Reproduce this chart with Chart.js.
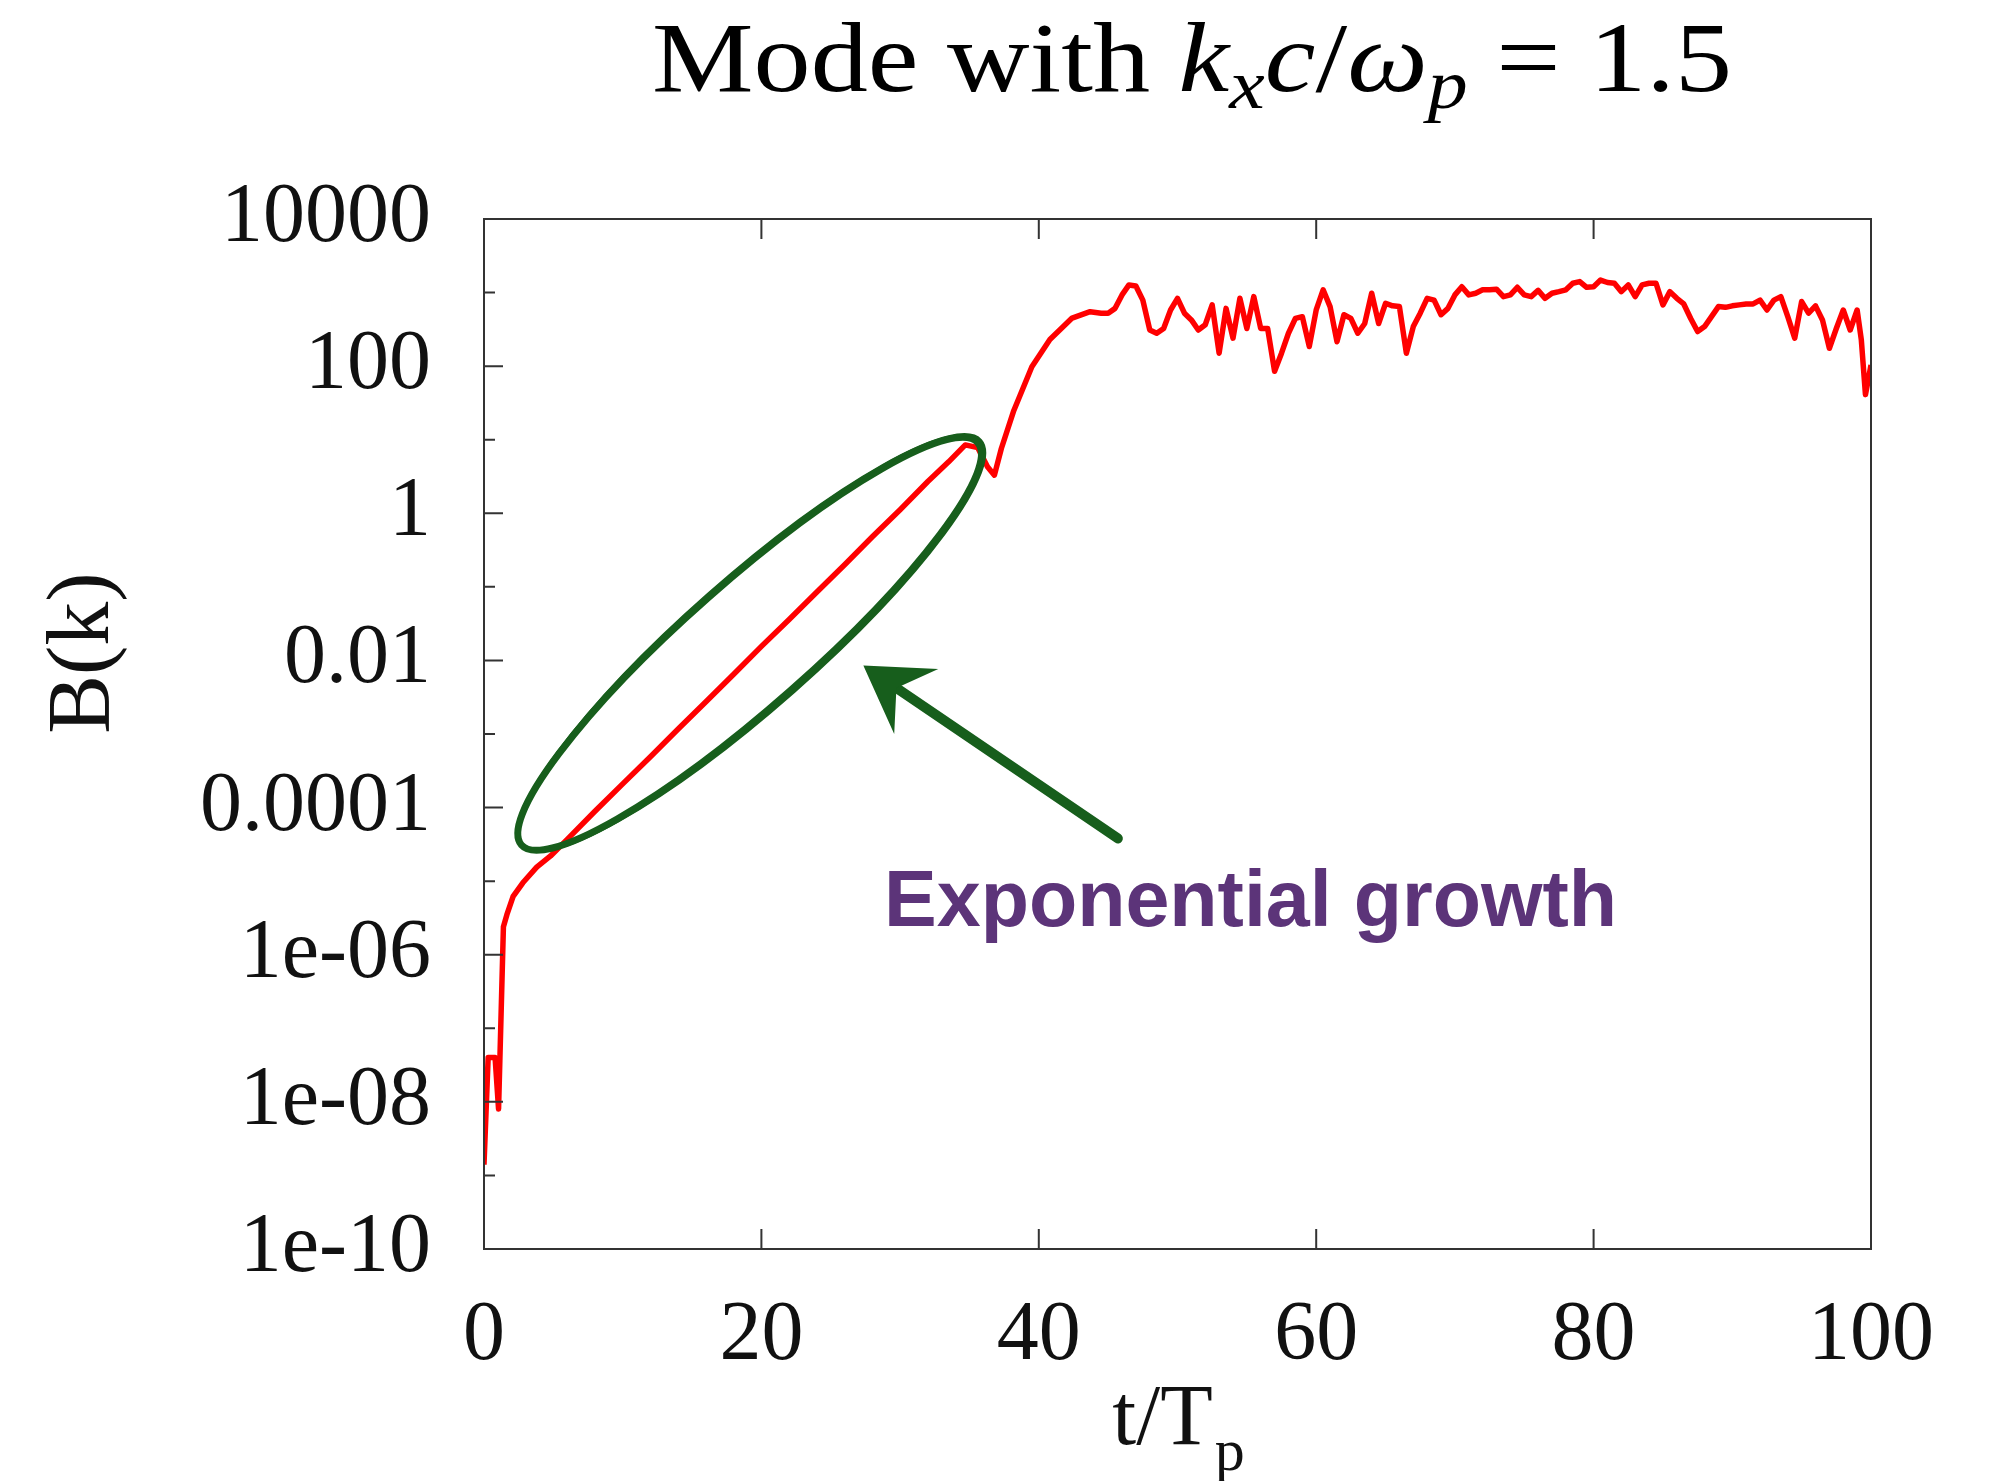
<!DOCTYPE html>
<html>
<head>
<meta charset="utf-8">
<script src="https://cdn.jsdelivr.net/npm/chart.js@4.4.0/dist/chart.umd.min.js"></script>
<style>
html, body { margin: 0; padding: 0; background: #fff; }
#wrap { width: 1998px; height: 1481px; }
</style>
</head>
<body>
<div id="wrap"><canvas id="mode-chart"></canvas></div>
<script>
// t/T_p and B(k)
var tValues = [0, 0.3, 0.8, 1.05, 1.4, 1.65, 2.1, 2.8, 3.8, 4.8,
  6, 8, 10, 12, 14, 16, 18, 20, 22, 24, 26, 28, 30, 32, 33.5, 34.7,
  35.6, 36.3, 36.8, 37.3, 38.2, 39.5, 40.8, 42.4, 43.7,
  44.5, 45, 45.5, 46, 46.5, 47, 47.5, 48, 48.5, 49, 49.5, 50, 50.5, 51, 51.5, 52, 52.5, 53, 53.5, 54, 54.5,
  55, 55.5, 56, 56.5, 57, 57.5, 58, 58.5, 59, 59.5, 60, 60.5, 61, 61.5, 62, 62.5, 63, 63.5, 64, 64.5,
  65, 65.5, 66, 66.5, 67, 67.5, 68, 68.5, 69, 69.5, 70, 70.5, 71, 71.5, 72, 72.5, 73, 73.5, 74, 74.5,
  75, 75.5, 76, 76.5, 77, 77.5, 78, 78.5, 79, 79.5, 80, 80.5, 81, 81.5, 82, 82.5, 83, 83.5, 84, 84.5,
  85, 85.5, 86, 86.5, 87, 87.5, 88, 88.5, 89, 89.5, 90, 90.5, 91, 91.5, 92, 92.5, 93, 93.5, 94, 94.5,
  95, 95.5, 96, 96.5, 97, 97.5, 98, 98.5, 99, 99.3, 99.6, 100];
var bValues = [1.4e-9, 4e-8, 4e-8, 8e-9, 2.4e-6, 3.5e-6, 6.2e-6, 9.5e-6, 1.55e-5, 2.2e-5,
  3.7e-5, 8.9e-5, 2.1e-4, 4.9e-4, 1.17e-3, 2.75e-3, 6.5e-3, 1.55e-2, 3.6e-2, 8.5e-2, 0.2, 0.48, 1.12, 2.7, 5.0, 8.5,
  7.8, 4.3, 3.3, 7.6, 25, 98, 230, 450, 550,
  525, 525, 610, 930, 1270, 1230, 790, 310, 280, 325, 580, 835, 525, 425, 310, 365, 680, 150, 610, 240, 835,
  325, 880, 325, 325, 85, 150, 280, 445, 470, 185, 580, 1090, 645, 215, 500, 445, 280, 380, 980, 380,
  715, 660, 645, 150, 345, 525, 835, 790, 500, 610, 930, 1200, 930, 980, 1090, 1090, 1110, 880, 930, 1180,
  930, 880, 1070, 835, 980, 1030, 1090, 1340, 1410, 1180, 1200, 1480, 1370, 1340, 1030, 1270, 880, 1270, 1340, 1340,
  680, 1030, 835, 700, 445, 295, 345, 470, 645, 630, 660, 680, 700, 700, 790, 580, 790, 880, 470, 240,
  755, 525, 660, 425, 175, 325, 580, 310, 580, 230, 41, 104];

var xTickValues = [0, 20, 40, 60, 80, 100];
var yTickValues = [1e4, 1e2, 1, 1e-2, 1e-4, 1e-6, 1e-8, 1e-10];
var yTickLabels = ["10000", "100", "1", "0.01", "0.0001", "1e-06", "1e-08", "1e-10"];
var yMinorValues = [1e3, 10, 0.1, 1e-3, 1e-5, 1e-7, 1e-9];

// title pieces: text + style (rm / it / sub)
var titleParts = [["Mode with ", "rm"], ["k", "it"], ["x", "sub"], ["c", "it"], ["/", "rm"],
  ["\u03c9", "it"], ["p", "sub"], [" = 1.5", "rm"]];

// annotation anchors in data units
var ellipseEnds = [[2.7, 3.1e-5], [35.6, 9.1]];
var arrowTail = [45.7, 3.8e-5];
var arrowTip = [27.35, 8.5e-3];
var noteText = "Exponential growth";

var serif = "'Liberation Serif', 'Times New Roman', serif";

let frameAndNotes = {
  id: "frameAndNotes",
  afterDraw: function(chart) {
    let ctx = chart.ctx;
    let area = chart.chartArea;
    let xs = chart.scales.x;
    let ys = chart.scales.y;

    // box + inward ticks (gnuplot style)
    ctx.save();
    ctx.strokeStyle = "#333";
    ctx.lineWidth = 2;
    ctx.strokeRect(area.left, area.top, area.right - area.left, area.bottom - area.top);
    ctx.beginPath();
    xTickValues.forEach(function(v) {
      let px = xs.getPixelForValue(v);
      ctx.moveTo(px, area.bottom); ctx.lineTo(px, area.bottom - 20);
      ctx.moveTo(px, area.top); ctx.lineTo(px, area.top + 20);
    });
    yTickValues.forEach(function(v) {
      let py = ys.getPixelForValue(v);
      ctx.moveTo(area.left, py); ctx.lineTo(area.left + 19, py);
    });
    yMinorValues.forEach(function(v) {
      let py = ys.getPixelForValue(v);
      ctx.moveTo(area.left, py); ctx.lineTo(area.left + 11, py);
    });
    ctx.stroke();
    ctx.restore();

    // green ellipse round the exponential part
    let p1 = [xs.getPixelForValue(ellipseEnds[0][0]), ys.getPixelForValue(ellipseEnds[0][1])];
    let p2 = [xs.getPixelForValue(ellipseEnds[1][0]), ys.getPixelForValue(ellipseEnds[1][1])];
    let cx = (p1[0] + p2[0]) / 2, cy = (p1[1] + p2[1]) / 2;
    let semiA = Math.hypot(p2[0] - p1[0], p2[1] - p1[1]) / 2;
    let ang = Math.atan2(p2[1] - p1[1], p2[0] - p1[0]);
    ctx.save();
    ctx.strokeStyle = "#175e1c";
    ctx.lineWidth = 7;
    ctx.beginPath();
    ctx.ellipse(cx, cy, semiA, 62, ang, 0, Math.PI * 2);
    ctx.stroke();
    ctx.lineWidth = 3;
    ctx.beginPath();
    ctx.ellipse(cx + 1.5, cy - 1, semiA + 2, 65, ang, 0, Math.PI * 2);
    ctx.stroke();

    // arrow
    let tx = xs.getPixelForValue(arrowTail[0]), ty = ys.getPixelForValue(arrowTail[1]);
    let hx = xs.getPixelForValue(arrowTip[0]), hy = ys.getPixelForValue(arrowTip[1]);
    let dir = Math.atan2(ty - hy, tx - hx);
    ctx.lineWidth = 10;
    ctx.lineCap = "round";
    ctx.beginPath();
    ctx.moveTo(tx, ty);
    ctx.lineTo(hx + 30 * Math.cos(dir), hy + 30 * Math.sin(dir));
    ctx.stroke();
    ctx.fillStyle = "#175e1c";
    ctx.beginPath();
    ctx.moveTo(hx, hy);
    ctx.lineTo(hx + 75 * Math.cos(dir - 0.55), hy + 75 * Math.sin(dir - 0.55));
    ctx.lineTo(hx + 40 * Math.cos(dir), hy + 40 * Math.sin(dir));
    ctx.lineTo(hx + 75 * Math.cos(dir + 0.55), hy + 75 * Math.sin(dir + 0.55));
    ctx.closePath();
    ctx.fill();
    ctx.restore();

    // note text
    ctx.save();
    ctx.fillStyle = "#5c3479";
    ctx.font = "bold 79px 'Liberation Sans', Arial, sans-serif";
    ctx.textBaseline = "alphabetic";
    ctx.textAlign = "left";
    ctx.fillText(noteText, 884, 926);
    ctx.restore();

    // title, stretched a little to the width of the original's TeX font
    ctx.save();
    ctx.fillStyle = "#000";
    ctx.textBaseline = "alphabetic";
    let fonts = {
      rm: "100px " + serif,
      it: "italic 100px " + serif,
      sub: "italic 70px " + serif
    };
    let total = 0;
    titleParts.forEach(function(p) { ctx.font = fonts[p[1]]; total += ctx.measureText(p[0]).width; });
    let sx = 1080 / total;
    ctx.translate(1192 - 540, 0);
    ctx.scale(sx, 1);
    let x = 0;
    titleParts.forEach(function(p) {
      ctx.font = fonts[p[1]];
      ctx.fillText(p[0], x, p[1] === "sub" ? 108 : 91);
      x += ctx.measureText(p[0]).width;
    });
    ctx.restore();

    // x axis title t/T_p
    ctx.save();
    ctx.fillStyle = "#111";
    ctx.font = "86px " + serif;
    let w1 = ctx.measureText("t/T").width;
    ctx.font = "60px " + serif;
    let w2 = ctx.measureText("p").width;
    let x0 = (area.left + area.right) / 2 - (w1 + w2) / 2;
    ctx.font = "86px " + serif;
    ctx.fillText("t/T", x0, 1444);
    ctx.font = "60px " + serif;
    ctx.fillText("p", x0 + w1 + 2, 1470);
    ctx.restore();

    // y axis title
    ctx.save();
    ctx.fillStyle = "#111";
    ctx.font = "88px " + serif;
    ctx.translate(108, 653);
    ctx.rotate(-Math.PI / 2);
    ctx.textAlign = "center";
    ctx.fillText("B(k)", 0, 0);
    ctx.restore();
  }
};

let points = tValues.map(function(t, i) { return { x: t, y: bValues[i] }; });

let modeChart = new Chart("mode-chart", {
  type: "line",
  data: {
    datasets: [{
      label: "B(k)",
      data: points,
      borderColor: "#ff0000",
      borderWidth: 5.5,
      borderJoinStyle: "round",
      pointRadius: 0,
      tension: 0,
      fill: false
    }]
  },
  options: {
    responsive: true,
    maintainAspectRatio: false,
    animation: false,
    layout: {
      padding: { top: 219, right: 127, bottom: 0, left: 0 }
    },
    plugins: {
      legend: { display: false },
      tooltip: { enabled: false }
    },
    scales: {
      x: {
        type: "linear",
        min: 0,
        max: 100,
        grid: { display: false, drawTicks: false },
        border: { display: false },
        afterBuildTicks: function(scale) {
          scale.ticks = xTickValues.map(function(v) { return { value: v }; });
        },
        afterFit: function(scale) {
          scale.height = 232;
          scale.paddingLeft = 0;
          scale.paddingRight = 0;
        },
        ticks: {
          padding: 38,
          color: "#111",
          maxRotation: 0,
          font: { size: 84, family: serif }
        }
      },
      y: {
        type: "logarithmic",
        min: 1e-10,
        max: 1e4,
        grid: { display: false, drawTicks: false },
        border: { display: false },
        afterBuildTicks: function(scale) {
          scale.ticks = yTickValues.map(function(v) { return { value: v }; });
        },
        afterFit: function(scale) {
          scale.width = 484;
          scale.paddingTop = 0;
          scale.paddingBottom = 0;
        },
        ticks: {
          padding: 53,
          color: "#111",
          font: { size: 84, family: serif },
          callback: function(value) {
            let i = yTickValues.indexOf(value);
            return i >= 0 ? yTickLabels[i] : "";
          }
        }
      }
    }
  },
  plugins: [frameAndNotes]
});
</script>
</body>
</html>
